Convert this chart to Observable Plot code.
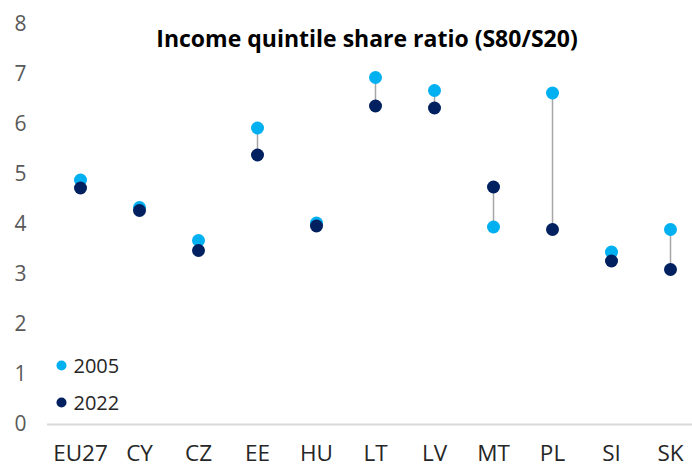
<!DOCTYPE html>
<html>
<head>
<meta charset="utf-8">
<script src="https://cdn.jsdelivr.net/npm/d3@7"></script>
<script src="https://cdn.jsdelivr.net/npm/@observablehq/plot@0.6"></script>
<style>
  html, body { margin: 0; padding: 0; background: #fff; }
  svg { display: block; }
</style>
</head>
<body>
<div id="chart"></div>
<script>
const title = "Income quintile share ratio (S80/S20)";
const countries = ["EU27","CY","CZ","EE","HU","LT","LV","MT","PL","SI","SK"];
const v2005 = [4.89,4.34,3.68,5.93,4.03,6.94,6.68,3.95,6.63,3.45,3.90];
const v2022 = [4.73,4.28,3.48,5.39,3.97,6.37,6.33,4.75,3.90,3.27,3.10];
const years = ["2005","2022"];
const colors = ["#00b0f0","#002060"];
const yTicks = [0,1,2,3,4,5,6,7,8];

const data = countries.map((c, i) => ({country: c, a: v2005[i], b: v2022[i]}));
const legend = years.map((y, i) => ({label: y, color: colors[i], i}));

const font = "'Open Sans', sans-serif";
const legendOffsets = [59, 22];

const chart = Plot.plot({
  width: 692,
  height: 468,
  marginLeft: 47,
  marginRight: 0,
  marginTop: 24,
  marginBottom: 44,
  style: {fontFamily: font, background: "#fff"},
  x: {type: "point", domain: countries, range: [47, 703], padding: 0.5},
  y: {domain: [0, 8], ticks: yTicks},
  marks: [
    Plot.axisY({ticks: yTicks, tickSize: 0, tickPadding: 21, fontSize: 21, color: "#595959", label: null, tickFormat: d => String(d)}),
    Plot.axisX({tickSize: 0, tickPadding: 21, fontSize: 22.5, color: "#262626", label: null}),
    Plot.ruleY([0], {stroke: "#d9d9d9", strokeWidth: 2}),
    Plot.ruleX(data, {x: "country", y1: "a", y2: "b", stroke: "#a6a6a6", strokeWidth: 1.5}),
    Plot.dot(data, {x: "country", y: "a", r: 6.5, fill: colors[0], stroke: null}),
    Plot.dot(data, {x: "country", y: "b", r: 6.5, fill: colors[1], stroke: null}),
    Plot.text([title], {frameAnchor: "top", text: d => d, dx: -3, dy: 15.5, fontSize: 23, fontWeight: "bold", fill: "#000", lineAnchor: "middle"}),
    Plot.dot(legend, {frameAnchor: "bottom-left", r: 5, fill: "color", render: (index, scales, values, dims, ctx, next) => {
      const g = next(index, scales, values, dims, ctx);
      d3.select(g).selectAll("circle").attr("transform", (d, k) => `translate(${dims.marginLeft + 14},${dims.height - dims.marginBottom - legendOffsets[k]})`).attr("cx", 0).attr("cy", 0);
      return g;
    }}),
    Plot.text(legend, {frameAnchor: "bottom-left", text: "label", fontSize: 20, fill: "#262626", textAnchor: "start", render: (index, scales, values, dims, ctx, next) => {
      const g = next(index, scales, values, dims, ctx);
      d3.select(g).selectAll("text").attr("transform", (d, k) => `translate(${dims.marginLeft + 26},${dims.height - dims.marginBottom - legendOffsets[k]})`).attr("x", 0).attr("y", 0).attr("dy", "0.35em");
      return g;
    }})
  ]
});
document.getElementById("chart").appendChild(chart);
</script>
</body>
</html>
